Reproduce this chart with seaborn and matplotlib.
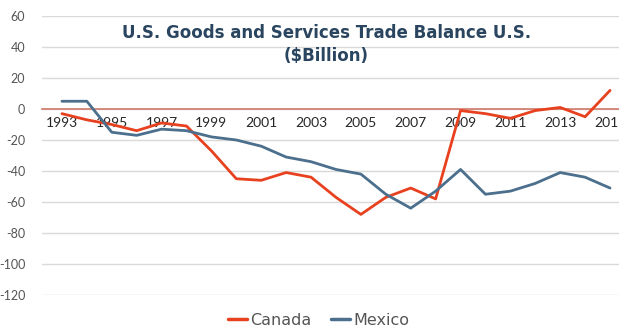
import matplotlib
matplotlib.use("Agg")
import matplotlib.pyplot as plt
import seaborn as sns
import pandas as pd
from matplotlib.lines import Line2D

years = list(range(1993, 2016))
canada = [-3, -7, -10, -14, -9, -11, -27, -45, -46, -41, -44, -57, -68, -57, -51, -58,
          -1, -3, -6, -1, 1, -5, 12]
mexico = [5, 5, -15, -17, -13, -14, -18, -20, -24, -31, -34, -39, -42, -55, -64, -53,
          -39, -55, -53, -48, -41, -44, -51]
series_names = ["Canada", "Mexico"]
colors = {"Canada": "#e8411f", "Mexico": "#4b6f8c"}
yticks = list(range(-120, 61, 20))
xticks = list(range(1993, 2016, 2))
title = "U.S. Goods and Services Trade Balance U.S.\n($Billion)"

df = pd.DataFrame({
    "Year": years * 2,
    "Value": canada + mexico,
    "Country": [series_names[0]] * len(years) + [series_names[1]] * len(years),
})

sns.set_style("white")
plt.rcParams["font.family"] = ["Lato", "DejaVu Sans"]

fig = plt.figure(figsize=(6.19, 3.3), dpi=100)
ax = fig.add_axes([42 / 619, 1 - 295 / 330, 1 - 42 / 619, (295 - 16) / 330])

sns.lineplot(data=df, x="Year", y="Value", hue="Country", palette=colors,
             linewidth=2.0, ax=ax, legend=False)

ax.set_xlim(1992.2, 2015.36)
ax.set_ylim(-120, 60)
ax.set_yticks(yticks)
ax.set_yticklabels([str(v) for v in yticks], color="#555555", fontsize=9)
ax.set_xticks(xticks)
ax.set_xticklabels([str(v) for v in xticks], color="#707070", fontsize=7.5)
ax.grid(axis="y", color="#d9d9d9", linewidth=1.0)
ax.set_axisbelow(True)
for s in ["top", "right", "left"]:
    ax.spines[s].set_visible(False)
ax.spines["bottom"].set_position(("data", 0))
ax.spines["bottom"].set_color("#d07a6a")
ax.spines["bottom"].set_linewidth(1.2)
ax.spines["bottom"].set_zorder(1)
ax.tick_params(axis="both", length=0)
ax.tick_params(axis="x", pad=6)
ax.tick_params(axis="y", pad=12)
ax.set_xlabel("")
ax.set_ylabel("")

fig.text(0.527, 0.865, title, ha="center", va="center", fontsize=12,
         fontweight="bold", color="#2a4560", linespacing=1.3,
         family=["DejaVu Sans"])

handles = [Line2D([0], [0], color=colors[n], linewidth=2.5) for n in series_names]
fig.legend(handles, series_names, loc="center", bbox_to_anchor=(0.515, 0.03),
           ncol=2, frameon=False, labelcolor="#555555",
           handlelength=1.2, handletextpad=0.2, columnspacing=1.2,
           prop={"family": ["DejaVu Sans"], "size": 11.5})

fig.savefig("out.png", dpi=100)
